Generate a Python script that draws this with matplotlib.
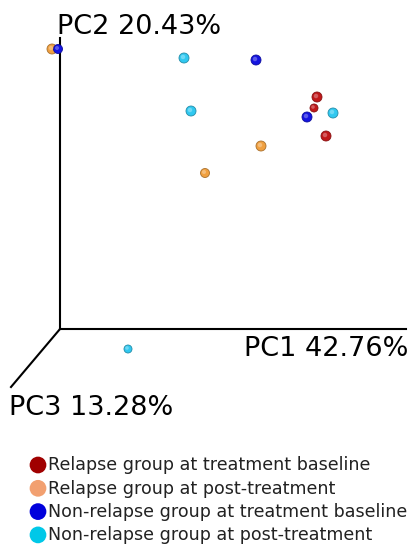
import matplotlib
matplotlib.use('agg')
import matplotlib.pyplot as plt
import numpy as np

plt.rcParams['font.family'] = ['DejaVu Sans']

# projected positions of the samples on the page (x right, y down)
groups = ['Relapse group at treatment baseline',
          'Relapse group at post-treatment',
          'Non-relapse group at treatment baseline',
          'Non-relapse group at post-treatment']
point_colors = ['#c0181a', '#f0a040', '#1414e0', '#30c8f0']
legend_colors = ['#a00000', '#f2a070', '#0000dc', '#00c8e8']

relapse_base_x = [317, 314, 326]
relapse_base_y = [97, 108, 136]
relapse_base_s = [10, 8, 10]
relapse_post_x = [52, 261, 205]
relapse_post_y = [49, 146, 173]
relapse_post_s = [10, 10, 9]
nonrel_base_x = [58, 256, 307]
nonrel_base_y = [49, 60, 117]
nonrel_base_s = [9, 10, 10]
nonrel_post_x = [184, 191, 333, 128]
nonrel_post_y = [58, 111, 113, 349]
nonrel_post_s = [10, 10, 10, 8]

axis_labels = ['PC1 42.76%', 'PC2 20.43%', 'PC3 13.28%']

fig = plt.figure(figsize=(4.14, 5.45), dpi=100)
ax = fig.add_axes([0, 0, 1, 1])
ax.set_xlim(0, 414)
ax.set_ylim(545, 0)
ax.axis('off')

# pseudo-3D axes
origin = (60, 329)
ax.plot([origin[0], origin[0]], [origin[1], 38], color='black', lw=1.5)
ax.plot([origin[0], 406], [origin[1], origin[1]], color='black', lw=1.5)
ax.plot([origin[0], 11], [origin[1], 387], color='black', lw=1.5)

ax.text(408, 356, axis_labels[0], fontsize=19.5, ha='right', va='baseline')
ax.text(57, 34, axis_labels[1], fontsize=19.5, ha='left', va='baseline')
ax.text(9, 415, axis_labels[2], fontsize=19.5, ha='left', va='baseline')


def darker(c, f=0.7):
    rgb = np.array(matplotlib.colors.to_rgb(c))
    return tuple(rgb * f)


def lighter(c, f=0.3):
    rgb = np.array(matplotlib.colors.to_rgb(c))
    return tuple(rgb + (1 - rgb) * f)


series = [(relapse_base_x, relapse_base_y, relapse_base_s),
          (relapse_post_x, relapse_post_y, relapse_post_s),
          (nonrel_base_x, nonrel_base_y, nonrel_base_s),
          (nonrel_post_x, nonrel_post_y, nonrel_post_s)]

for (xs, ys, ds), c in zip(series, point_colors):
    sizes = (np.array(ds) * 0.72) ** 2
    ax.scatter(xs, ys, s=sizes, color=c, edgecolors=darker(c), linewidths=0.6, zorder=3)
    ax.scatter(np.array(xs) - 1, np.array(ys) - 1, s=sizes * 0.2,
               color=lighter(c), edgecolors='none', zorder=4)

# legend
for i, (g, c) in enumerate(zip(groups, legend_colors)):
    y = 465 + i * 23.3
    ax.scatter([38], [y], s=145, color=c, edgecolors='none', zorder=3)
    ax.text(48, y + 5.5, g, fontsize=12.6, ha='left', va='baseline', color='#222222')

fig.savefig('out.png', dpi=100)
